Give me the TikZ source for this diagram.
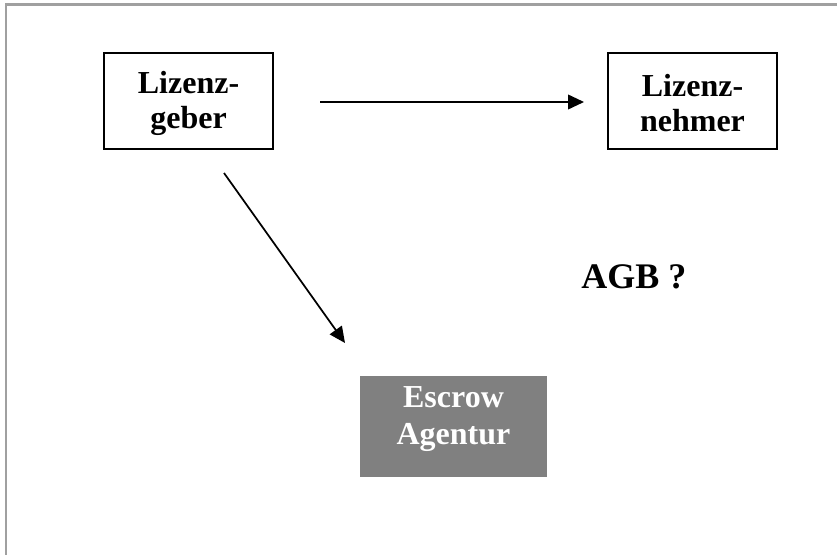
\documentclass[tikz,border=0pt]{standalone}
\usepackage{fontspec}
\setmainfont{Liberation Serif}
\usetikzlibrary{arrows.meta}
\definecolor{framegray}{HTML}{A0A0A0}
\definecolor{boxgray}{HTML}{808080}
\tikzset{
  whitebox/.style={draw=black, line width=1.3pt, fill=white, minimum width=126.75pt, minimum height=72pt, inner sep=0pt},
  boxtext/.style={align=center, inner sep=0pt, font=\fontsize{24}{26.25}\selectfont\bfseries},
  escrowbox/.style={fill=boxgray, draw=none, minimum width=140.25pt, minimum height=75.75pt, inner sep=0pt},
  escrowtext/.style={text=white, align=center, font=\fontsize{24}{27.75}\selectfont\bfseries},
  conn/.style={line width=1.3pt, -{Triangle[length=12pt, width=11pt]}},
  frameline/.style={draw=framegray, line width=1.6pt}
}
\begin{document}
\begin{tikzpicture}[x=0.75pt, y=-0.75pt]
\useasboundingbox (0,0) rectangle (837,555);
% frame
\coordinate (fa) at (6,555);
\coordinate (fb) at (6,4.5);
\coordinate (fc) at (837,4.5);
\draw[frameline] (fa) -- (fb) -- (fc);
% nodes
\node[whitebox] (geber) at (188.5,101) {};
\node[boxtext] (geberlbl) at (188.5,103.5) {Lizenz-\\geber};
\node[whitebox] (nehmer) at (692.5,101) {};
\node[boxtext] (nehmerlbl) at (692.5,103.5) {Lizenz-\\nehmer};
\node[escrowbox] (escrow) at (453.5,426.5) {};
\node[escrowtext] (escrowlbl) at (453.5,419) {Escrow\\Agentur};
\node[font=\fontsize{27}{30}\selectfont\bfseries, anchor=base west, inner sep=0pt] (agb) at (581,289) {AGB ?};
% connectors
\coordinate (h1) at (320,102);
\coordinate (h2) at (584,102);
\draw[conn] (h1) -- (h2);
\coordinate (d1) at (224,173);
\coordinate (d2) at (345,343);
\draw[conn] (d1) -- (d2);
\end{tikzpicture}
\end{document}
